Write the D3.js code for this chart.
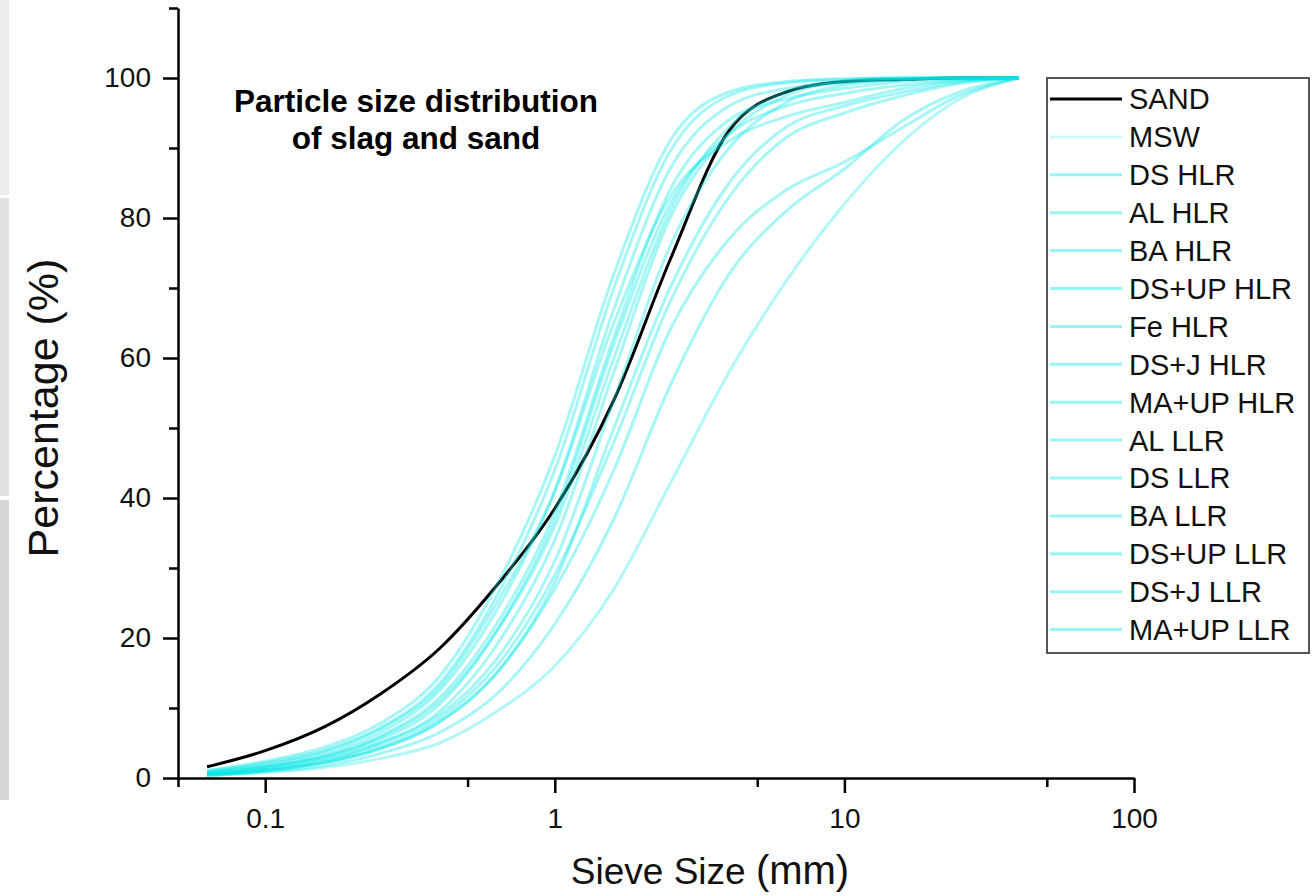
<!DOCTYPE html>
<html>
<head>
<meta charset="utf-8">
<script src="https://cdn.jsdelivr.net/npm/d3@7"></script>
<style>
  body { margin: 0; background: #fff; }
  svg { display: block; font-family: "Liberation Sans", Arial, sans-serif; }
</style>
</head>
<body>
<svg id="chart"></svg>
<script>
const sieveSizes = [0.063, 0.1, 0.16, 0.25, 0.4, 0.63, 1, 1.6, 2.5, 4, 6.3, 10, 16, 25, 40];

const seriesNames = ["SAND", "MSW", "DS HLR", "AL HLR", "BA HLR", "DS+UP HLR", "Fe HLR", "DS+J HLR",
  "MA+UP HLR", "AL LLR", "DS LLR", "BA LLR", "DS+UP LLR", "DS+J LLR", "MA+UP LLR"];

// percentage passing (%)
const sand     = [1.6, 3.9, 7.3, 12, 18.5, 27.5, 38.5, 54, 74, 92.5, 98, 99.5, 99.8, 100, 100];
const msw      = [0.3, 0.8, 1.5, 2.8, 5, 9.5, 16, 27, 42, 58, 71, 82, 91, 97, 100];
const dsHlr    = [1.1, 2.4, 4.4, 7.8, 14.5, 27.5, 46, 72, 91, 98, 99.5, 99.9, 100, 100, 100];
const alHlr    = [1.0, 2.2, 4, 7.2, 13.5, 26, 44, 70, 89.5, 97.5, 99.3, 99.8, 100, 100, 100];
const baHlr    = [0.8, 1.8, 3.5, 6.5, 12.5, 24, 41, 67, 87, 96, 98.5, 99.3, 99.8, 100, 100];
const dsUpHlr  = [0.7, 1.6, 3.2, 6, 11.5, 22, 38, 63, 84, 94, 97, 98.5, 99.5, 99.9, 100];
const feHlr    = [0.5, 1.1, 2.2, 4.2, 8, 15, 27, 44, 64, 77, 84, 88, 93, 97.5, 100];
const dsJHlr   = [0.4, 0.9, 1.8, 3.5, 6.5, 12, 22, 37, 56, 72, 81, 87, 94, 98, 100];
const maUpHlr  = [0.6, 1.5, 3, 5.5, 10.5, 21, 37, 62, 82, 92, 96, 97.8, 99, 99.7, 100];
const alLlr    = [0.9, 2, 3.8, 7, 13, 25, 41, 65, 83, 91, 94.5, 96.5, 98.5, 99.6, 100];
const dsLlr    = [0.5, 1.2, 2.5, 5, 9.5, 19, 34, 58, 80, 92, 97.5, 99.5, 99.9, 100, 100];
const baLlr    = [0.6, 1.3, 2.7, 5, 9, 17, 31, 54, 76, 90, 96.5, 99, 99.8, 100, 100];
const dsUpLlr  = [0.4, 1, 2.2, 4.2, 8, 15, 28, 50, 70, 85, 93, 96, 98, 99.4, 100];
const dsJLlr   = [0.5, 1.1, 2.3, 4.5, 8.5, 16, 29, 48, 68, 83, 91.5, 95, 97.5, 99.2, 100];
const maUpLlr  = [0.7, 1.6, 3, 5.8, 11, 21, 36, 60, 81, 93, 98, 99.6, 100, 100, 100];

const xTicks = [0.1, 1, 10, 100];
const xMinorTicks = [0.05, 0.5, 5, 50];
const yTicks = [0, 20, 40, 60, 80, 100];
const yMinorTicks = [10, 30, 50, 70, 90, 110];

const allValues = [sand, msw, dsHlr, alHlr, baHlr, dsUpHlr, feHlr, dsJHlr,
  maUpHlr, alLlr, dsLlr, baLlr, dsUpLlr, dsJLlr, maUpLlr];
const series = seriesNames.map((name, i) => ({
  name: name,
  values: sieveSizes.map((s, j) => ({size: s, pct: allValues[i][j]}))
}));

const width = 1312;
const height = 896;

const x = d3.scaleLog().domain([0.05, 100]).range([178, 1134]);
const y = d3.scaleLinear().domain([0, 110]).range([778, 8]);

const svg = d3.select("#chart")
    .attr("width", width)
    .attr("height", height)
    .attr("viewBox", [0, 0, width, height]);

svg.append("rect").attr("width", width).attr("height", height).attr("fill", "#fff");

// scanned page edge on the left
svg.append("rect").attr("x", 0).attr("y", 0).attr("width", 9).attr("height", 195).attr("fill", "#ececec");
svg.append("rect").attr("x", 0).attr("y", 198).attr("width", 9).attr("height", 298).attr("fill", "#e2e2e2");
svg.append("rect").attr("x", 0).attr("y", 500).attr("width", 9).attr("height", 300).attr("fill", "#d6d6d6");

const line = d3.line()
    .x(d => x(d.size))
    .y(d => y(d.pct))
    .curve(d3.curveMonotoneX);

// sand first, slag curves on top
svg.append("g")
  .selectAll("path")
  .data(series)
  .join("path")
    .attr("fill", "none")
    .attr("stroke", d => d.name === "SAND" ? "#000" : "#00e6e6")
    .attr("stroke-opacity", d => d.name === "SAND" ? 1 : (d.name === "MSW" ? 0.3 : 0.35))
    .attr("stroke-width", 3)
    .attr("stroke-linejoin", "round")
    .attr("d", d => line(d.values));

// axes
function styleAxis(g) {
  g.select(".domain").attr("stroke", "#000").attr("stroke-width", 2.5);
  g.selectAll(".tick line").attr("stroke", "#000").attr("stroke-width", 2.5);
  g.selectAll(".tick text").attr("fill", "#111").attr("font-size", 28)
    .attr("font-family", "'Liberation Sans', Arial, sans-serif");
}

svg.append("g")
    .attr("transform", "translate(0,778)")
    .call(d3.axisBottom(x).tickValues(xMinorTicks).tickSize(9).tickFormat(""))
    .call(g => g.select(".domain").remove())
    .call(styleAxis);

svg.append("g")
    .attr("transform", "translate(0,778)")
    .call(d3.axisBottom(x).tickValues(xTicks).tickSize(15).tickPadding(15).tickSizeOuter(0)
      .tickFormat(d3.format("~g")))
    .call(styleAxis);

svg.append("g")
    .attr("transform", "translate(178,0)")
    .call(d3.axisLeft(y).tickValues(yMinorTicks).tickSize(9).tickFormat(""))
    .call(g => g.select(".domain").remove())
    .call(styleAxis);

svg.append("g")
    .attr("transform", "translate(178,0)")
    .call(d3.axisLeft(y).tickValues(yTicks).tickSize(15).tickPadding(12).tickSizeOuter(0))
    .call(styleAxis);

// axis titles
svg.append("text")
    .attr("transform", "translate(58,408) rotate(-90)")
    .attr("text-anchor", "middle")
    .attr("font-size", 43)
    .attr("fill", "#111")
    .text("Percentage (%)");

const xTitle = svg.append("text")
    .attr("x", 710)
    .attr("y", 884)
    .attr("text-anchor", "middle")
    .attr("fill", "#111");
xTitle.append("tspan").attr("font-size", 37).text("Sieve Size ");
xTitle.append("tspan").attr("font-size", 40).text("(mm)");

// chart title
const title = svg.append("text")
    .attr("text-anchor", "middle")
    .attr("font-weight", "bold")
    .attr("font-size", 31.5)
    .attr("fill", "#000");
title.append("tspan").attr("x", 416).attr("y", 112).text("Particle size distribution");
title.append("tspan").attr("x", 416).attr("y", 149).text("of slag and sand");

// legend
const legend = svg.append("g");
legend.append("rect")
    .attr("x", 1047).attr("y", 78)
    .attr("width", 262).attr("height", 575)
    .attr("fill", "#fff")
    .attr("stroke", "#555")
    .attr("stroke-width", 2);

const rowY = i => 99 + i * 37.9;
const item = legend.selectAll("g.item")
  .data(series)
  .join("g")
    .attr("class", "item")
    .attr("transform", (d, i) => `translate(0,${rowY(i)})`);
item.append("line")
    .attr("x1", 1050).attr("x2", 1122)
    .attr("stroke", d => d.name === "SAND" ? "#000" : "#00e6e6")
    .attr("stroke-opacity", d => d.name === "SAND" ? 1 : (d.name === "MSW" ? 0.2 : 0.4))
    .attr("stroke-width", 3);
item.append("text")
    .attr("x", 1129)
    .attr("dy", "0.36em")
    .attr("font-size", 29)
    .attr("fill", "#111")
    .text(d => d.name);
</script>
</body>
</html>
